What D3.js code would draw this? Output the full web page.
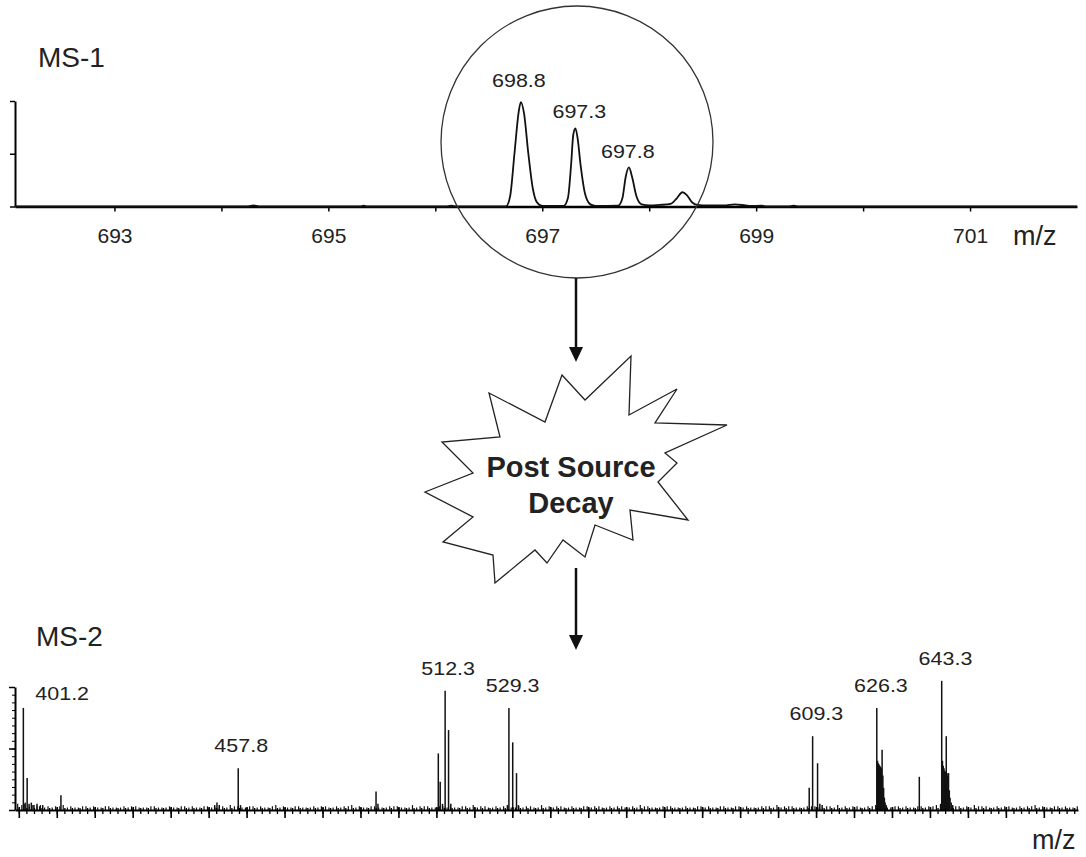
<!DOCTYPE html>
<html>
<head>
<meta charset="utf-8">
<script src="https://cdnjs.cloudflare.com/ajax/libs/d3/7.8.5/d3.min.js"></script>
<style>
  body { margin: 0; background: #fff; }
  text { font-family: "Liberation Sans", Arial, sans-serif; fill: #222; }
</style>
</head>
<body>
<svg id="chart" width="1086" height="857"></svg>
<script>
// MS-1 profile, [m/z, relative intensity %]
const ms1Profile = [
  [692.07, 0], [694.25, 0], [694.3, 1], [694.35, 0], [695.3, 0], [695.33, 0.8], [695.36, 0],
  [696.1, 0], [696.15, 0.8], [696.2, 0],
  [696.66, 0], [696.70, 10], [696.74, 50], [696.78, 90], [696.80, 99], [696.83, 88],
  [696.87, 50], [696.91, 18], [696.95, 4], [697.0, 0.5],
  [697.20, 0.5], [697.24, 8], [697.27, 40], [697.29, 68], [697.31, 74], [697.33, 65],
  [697.36, 38], [697.40, 12], [697.45, 2], [697.5, 0.5],
  [697.71, 0.8], [697.75, 8], [697.78, 28], [697.81, 37], [697.84, 28], [697.88, 10],
  [697.93, 2], [698.0, 1], [698.1, 1.5], [698.2, 2.5],
  [698.26, 8], [698.31, 13.5], [698.35, 11], [698.40, 4], [698.45, 1.5], [698.55, 1],
  [698.7, 1], [698.8, 2], [698.9, 1], [698.95, 0.5], [699.05, 0.8], [699.1, 0],
  [699.3, 0], [699.35, 0.8], [699.4, 0], [702, 0]
]
const ms1PeakMz = [696.8, 697.3, 697.8]
const ms1PeakText = ["698.8", "697.3", "697.8"]
const ms1Ticks = [693, 694, 695, 696, 697, 698, 699, 700, 701]
const ms1TickLabels = [693, 695, 697, 699, 701]

// MS-2 sticks, [m/z, relative intensity %]
const ms2Peaks = [
  [401.2, 83], [401.6, 5], [402.2, 26], [402.7, 5], [403.3, 6], [404.0, 4], [404.8, 5],
  [405.5, 3], [406.3, 4], [411.1, 12],
  [451.6, 4], [452.2, 6], [452.8, 4], [457.8, 34], [458.4, 4],
  [494.1, 15], [494.6, 5],
  [510.5, 46], [511.0, 23], [511.6, 5], [512.3, 97], [513.2, 65], [513.8, 5],
  [528.7, 4], [529.1, 83], [530.1, 55], [531.1, 30], [531.6, 4],
  [608.2, 18], [609.1, 60], [610.4, 38], [611.0, 5], [611.6, 4],
  [626.0, 83], [626.2, 40], [626.4, 38], [626.6, 37], [626.8, 36], [627.0, 35], [627.2, 34],
  [627.4, 49], [627.6, 28], [627.8, 18], [628.0, 10], [628.2, 6], [628.5, 4],
  [637.2, 27],
  [642.8, 5], [643.1, 105], [643.3, 40], [643.5, 36], [643.7, 34], [643.9, 32], [644.1, 31],
  [644.3, 60], [644.5, 30], [644.7, 28], [644.9, 30], [645.1, 16], [645.3, 10], [645.6, 6], [646.0, 4]
]
// baseline noise, one value every 2 m/z from 399.7, and every 2 m/z from 400.8
const ms2NoiseEven = [
  5, 6, 4, 4, 3, 3, 4, 3, 2, 3, 3, 2, 3, 2, 3, 3, 2, 2, 3, 2,
  3, 2, 3, 3, 2, 3, 2, 3, 4, 3, 2, 3, 3, 2, 4, 3, 2, 3, 2, 3,
  3, 2, 3, 3, 4, 3, 2, 3, 2, 3, 3, 2, 4, 3, 3, 2, 3, 3, 2, 3,
  4, 3, 2, 3, 3, 2, 3, 3, 2, 4, 3, 3, 2, 3, 2, 3, 3, 2, 3, 3,
  2, 3, 4, 3, 2, 3, 3, 2, 3, 2, 3, 3, 2, 3, 2, 3, 3, 2, 3, 3,
  4, 3, 3, 2, 3, 3, 2, 3, 4, 3, 3, 2, 3, 4, 3, 2, 3, 3, 2, 3,
  3, 4, 3, 2, 3, 3, 4, 3, 2, 3, 3, 2, 3, 3, 4, 3, 2, 3, 3, 2
]
const ms2NoiseOdd = [
  4, 3, 3, 2, 2, 3, 2, 2, 3, 2, 2, 3, 2, 2, 2, 3, 2, 3, 2, 2,
  2, 3, 2, 2, 3, 2, 2, 2, 3, 2, 3, 2, 2, 3, 2, 2, 3, 2, 2, 2,
  3, 2, 2, 3, 2, 2, 3, 2, 2, 3, 2, 2, 2, 3, 2, 3, 2, 2, 3, 2,
  2, 3, 2, 2, 3, 2, 2, 3, 2, 2, 2, 3, 2, 2, 3, 2, 3, 2, 2, 3,
  2, 2, 3, 2, 2, 3, 2, 2, 2, 3, 2, 2, 3, 2, 3, 2, 2, 2, 3, 2,
  2, 3, 2, 2, 3, 2, 3, 2, 2, 2, 3, 2, 3, 2, 2, 3, 2, 2, 3, 2,
  3, 2, 2, 3, 2, 2, 3, 3, 2, 2, 3, 2, 2, 3, 2, 2, 3, 2, 2, 3
]
const ms2LabelMz = [401.2, 457.8, 512.3, 529.3, 609.3, 626.3, 643.3]

const svg = d3.select('#chart')

// scales
const x1 = d3.scaleLinear().domain([692.07, 702]).range([15, 1077])
const y1 = d3.scaleLinear().domain([0, 100]).range([206.5, 101])
const x2 = d3.scaleLinear().domain([399, 679]).range([15, 1078])
const y2 = d3.scaleLinear().domain([0, 100]).range([810, 687])

// ---------- MS-1 ----------
svg.append('text').attr('x', 38).attr('y', 67)
  .style('font-size', '28px').text('MS-1')

const xAxis1 = svg.append('g').attr('transform', 'translate(0,206.5)')
  .call(d3.axisBottom(x1).tickValues(ms1Ticks).tickSize(5).tickSizeOuter(0)
    .tickFormat(d => ms1TickLabels.includes(d) ? d : ''))
xAxis1.select('.domain').attr('stroke-width', 2.5)
xAxis1.selectAll('.tick line').attr('stroke-width', 1.5)
xAxis1.selectAll('.tick text').attr('y', 22)
  .style('font-size', '21px').style('font-family', '"Liberation Sans", Arial, sans-serif').attr('fill', '#333')

const yAxis1 = svg.append('g').attr('transform', 'translate(15,0)')
  .call(d3.axisLeft(y1).tickValues([0, 50, 100]).tickSize(5).tickSizeOuter(0).tickFormat(''))
yAxis1.select('.domain').attr('stroke-width', 2)
yAxis1.selectAll('.tick line').attr('stroke-width', 1.5)

svg.append('path').datum(ms1Profile)
  .attr('fill', 'none').attr('stroke', '#111').attr('stroke-width', 1.8)
  .attr('d', d3.line().x(d => x1(d[0])).y(d => y1(d[1])).curve(d3.curveMonotoneX))

const peakTop1 = mz => d3.max(ms1Profile.filter(p => Math.abs(p[0] - mz) < 0.1), p => p[1])
svg.selectAll('.lab1').data(ms1PeakMz).enter().append('text')
  .attr('transform', (d, i) => `translate(${x1(d) + [-2, 5, 0][i]},${y1(peakTop1(d)) - [15, 10, 9][i]}) scale(1.13,1)`)
  .attr('text-anchor', 'middle').style('font-size', '19px').attr('fill', '#333')
  .text((d, i) => ms1PeakText[i])

svg.append('text').attr('x', 1013).attr('y', 245)
  .style('font-size', '27px').text('m/z')

// zoom circle
svg.append('circle').attr('cx', 577).attr('cy', 142).attr('r', 136)
  .attr('fill', 'none').attr('stroke', '#333').attr('stroke-width', 1.3)

// arrows
function arrow(x, yTop, yTip) {
  svg.append('line').attr('x1', x).attr('x2', x).attr('y1', yTop).attr('y2', yTip - 12)
    .attr('stroke', '#111').attr('stroke-width', 2.5)
  svg.append('path').attr('d', `M${x - 7},${yTip - 15}L${x + 7},${yTip - 15}L${x},${yTip}Z`)
    .attr('fill', '#111')
}
arrow(576, 278, 362)
arrow(576, 568, 650)

// starburst
const burst = [
  [489, 393], [545, 422], [562, 375], [585, 400], [631, 356], [629, 415], [677, 389],
  [655, 423], [727, 425], [665, 453], [677, 463], [658, 482], [688, 520], [630, 510],
  [633, 540], [595, 525], [585, 557], [563, 540], [547, 563], [535, 550], [495, 583],
  [493, 555], [443, 542], [473, 517], [425, 492], [473, 473], [442, 442], [500, 437]
]
svg.append('polygon').attr('points', burst.map(p => p.join(',')).join(' '))
  .attr('fill', '#fff').attr('stroke', '#222').attr('stroke-width', 1.3)
  .attr('stroke-linejoin', 'miter')
svg.append('text').attr('x', 571).attr('y', 477).attr('text-anchor', 'middle')
  .style('font-size', '29px').style('font-weight', 'bold').text('Post Source')
svg.append('text').attr('x', 571).attr('y', 513).attr('text-anchor', 'middle')
  .style('font-size', '29px').style('font-weight', 'bold').text('Decay')

// ---------- MS-2 ----------
svg.append('text').attr('x', 36).attr('y', 646)
  .style('font-size', '28px').text('MS-2')

// noise sticks
const noiseG = svg.append('g').attr('stroke', '#111').attr('stroke-width', 1.2)
noiseG.selectAll('.ne').data(ms2NoiseEven).enter().append('line')
  .attr('x1', (d, i) => x2(399.7 + 2 * i)).attr('x2', (d, i) => x2(399.7 + 2 * i))
  .attr('y1', y2(0)).attr('y2', d => y2(d))
noiseG.selectAll('.no').data(ms2NoiseOdd).enter().append('line')
  .attr('x1', (d, i) => x2(400.8 + 2 * i)).attr('x2', (d, i) => x2(400.8 + 2 * i))
  .attr('y1', y2(0)).attr('y2', d => y2(d))

// peak sticks
svg.append('g').selectAll('line').data(ms2Peaks).enter().append('line')
  .attr('x1', d => x2(d[0])).attr('x2', d => x2(d[0]))
  .attr('y1', y2(0)).attr('y2', d => y2(d[1]))
  .attr('stroke', '#111').attr('stroke-width', 1.5)

// x axis, major + minor ticks
const xAxis2 = svg.append('g').attr('transform', 'translate(0,810)')
  .call(d3.axisBottom(x2).tickValues(d3.range(400, 679, 10)).tickSize(8).tickSizeOuter(0).tickFormat(''))
xAxis2.select('.domain').attr('stroke-width', 2.2)
xAxis2.selectAll('.tick line').attr('stroke-width', 1.6).attr('y1', -3)
const xMinor2 = svg.append('g').attr('transform', 'translate(0,810)')
  .call(d3.axisBottom(x2).tickValues(d3.range(400, 679, 2)).tickSize(4).tickSizeOuter(0).tickFormat(''))
xMinor2.select('.domain').remove()
xMinor2.selectAll('.tick line').attr('stroke-width', 1.3).attr('y1', -2)

// y axis
const yAxis2 = svg.append('g').attr('transform', 'translate(15,0)')
  .call(d3.axisLeft(y2).tickValues([0, 50, 100]).tickSize(6).tickSizeOuter(0).tickFormat(''))
yAxis2.select('.domain').attr('stroke-width', 2)
yAxis2.selectAll('.tick line').attr('stroke-width', 1.5)
const yMinor2 = svg.append('g').attr('transform', 'translate(15,0)')
  .call(d3.axisLeft(y2).tickValues(d3.range(0, 100, 6.25)).tickSize(3).tickSizeOuter(0).tickFormat(''))
yMinor2.select('.domain').remove()
yMinor2.selectAll('.tick line').attr('stroke-width', 1)

// peak labels
const peakTop2 = mz => d3.max(ms2Peaks.filter(p => Math.abs(p[0] - mz) < 0.6), p => p[1])
svg.selectAll('.lab2').data(ms2LabelMz).enter().append('text')
  .attr('transform', d => d === 401.2
    ? `translate(${x2(d) + 12},${y2(peakTop2(d)) - 8}) scale(1.13,1)`
    : `translate(${x2(d) + 3},${y2(peakTop2(d)) - 16}) scale(1.13,1)`)
  .attr('text-anchor', d => d === 401.2 ? 'start' : 'middle')
  .style('font-size', '19px').attr('fill', '#333')
  .text(d => d.toFixed(1))

svg.append('text').attr('x', 1032).attr('y', 849)
  .style('font-size', '27px').text('m/z')
</script>
</body>
</html>
